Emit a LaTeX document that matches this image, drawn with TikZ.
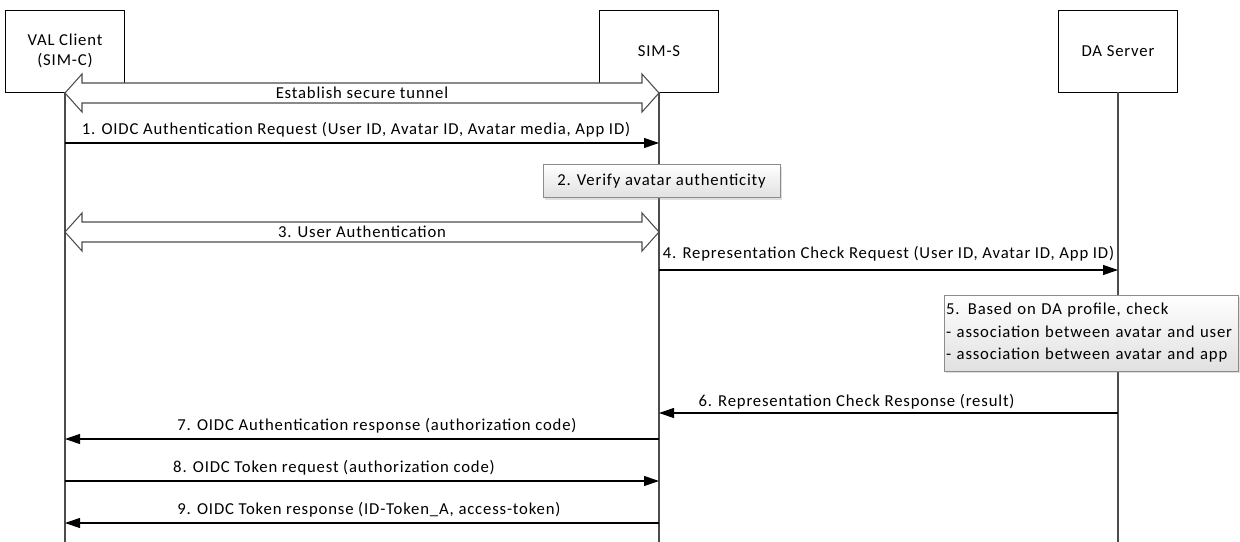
\documentclass[tikz,border=0pt]{standalone}
\usepackage{fontspec}
\setmainfont[LetterSpace=5]{Carlito}
\usepackage{tikz}
\usetikzlibrary{calc,arrows.meta,shadows}
\tikzset{>={Triangle[length=3mm,width=2mm]}}

\begin{document}
\begin{tikzpicture}[x=0.2mm,y=-0.2mm,font=\fontsize{9.5}{11.6}\selectfont,
    entity/.style={draw,minimum width=23.8mm,minimum height=16.4mm,align=center},
    life/.style={black!70,line width=0.6pt},
    msg/.style={->,line width=0.6pt},
    lbl/.style={above,inner sep=1mm},
    action/.style={draw=black!45,top color=white,bottom color=black!12,
      drop shadow={shadow xshift=0.4mm,shadow yshift=-0.4mm,opacity=0.25}},
    tunnel/.style={draw=black!70,fill=white,line width=0.6pt}]
      \useasboundingbox (0,0) rectangle (1240,542);
      \node[entity] (val) at (65,51) {VAL Client\\(SIM-C)};
      \node[entity] (sims) at (659,51) {SIM-S};
      \node[entity] (da) at (1118,51) {DA Server};
      \coordinate (bot) at (0,542);
      \coordinate (r0) at (0,93);
      \coordinate (r1) at (0,143);
      \coordinate (r2) at (0,181);
      \coordinate (r3) at (0,232);
      \coordinate (r4) at (0,270);
      \coordinate (r5) at (0,333);
      \coordinate (r6) at (0,413);
      \coordinate (r7) at (0,439);
      \coordinate (r8) at (0,481);
      \coordinate (r9) at (0,523);
      \draw[life] (val) -- (val |- bot);
      \draw[life] (sims) -- (sims |- bot);
      \draw[life] (da) -- (da |- bot);
      \foreach \row/\txt in {r0/Establish secure tunnel,r3/3. User Authentication}{
        \draw[tunnel] (val |- \row) -- ++(17,-19) -- ++(0,9) -- ($(sims |- \row)+(-17,-10)$)
          -- ++(0,-9) -- (sims |- \row) -- ++(-17,19) -- ++(0,-9)
          -- ($(val |- \row)+(17,10)$) -- ++(0,9) -- cycle;
        \node (t\row) at ($(val |- \row)!0.5!(sims |- \row)$) {\txt};
      }
      \draw[msg] (val |- r1) -- node[lbl,xshift=-1.2mm] {1. OIDC Authentication Request (User ID, Avatar ID, Avatar media, App ID)} (sims |- r1);
      \node[action,minimum width=47.4mm,minimum height=6.6mm] (verify) at ($(sims |- r2)+(2.5,0)$) {2. Verify avatar authenticity};
      \draw[msg] (sims |- r4) -- node[lbl,yshift=0.6mm] {4. Representation Check Request (User ID, Avatar ID, App ID)} (da |- r4);
      \node[action,text width=58mm,inner xsep=0.4mm,minimum height=15.2mm,align=left,
        font=\fontsize{9.5}{12.8}\selectfont] (check) at ($(da |- r5)+(-27,0)$)
        {5. Based on DA profile, check\\- association between avatar and user\\- association between avatar and app};
      \draw[msg] (da |- r6) -- node[lbl,xshift=-6.4mm,yshift=-0.4mm] {6. Representation Check Response (result)} (sims |- r6);
      \draw[msg] (sims |- r7) -- node[lbl,xshift=3mm] {7. OIDC Authentication response (authorization code)} (val |- r7);
      \draw[msg] (val |- r8) -- node[lbl,xshift=-5.6mm] {8. OIDC Token request (authorization code)} (sims |- r8);
      \draw[msg] (sims |- r9) -- node[lbl,xshift=1.4mm] {9. OIDC Token response (ID-Token\_A, access-token)} (val |- r9);
    \end{tikzpicture}
\end{document}
